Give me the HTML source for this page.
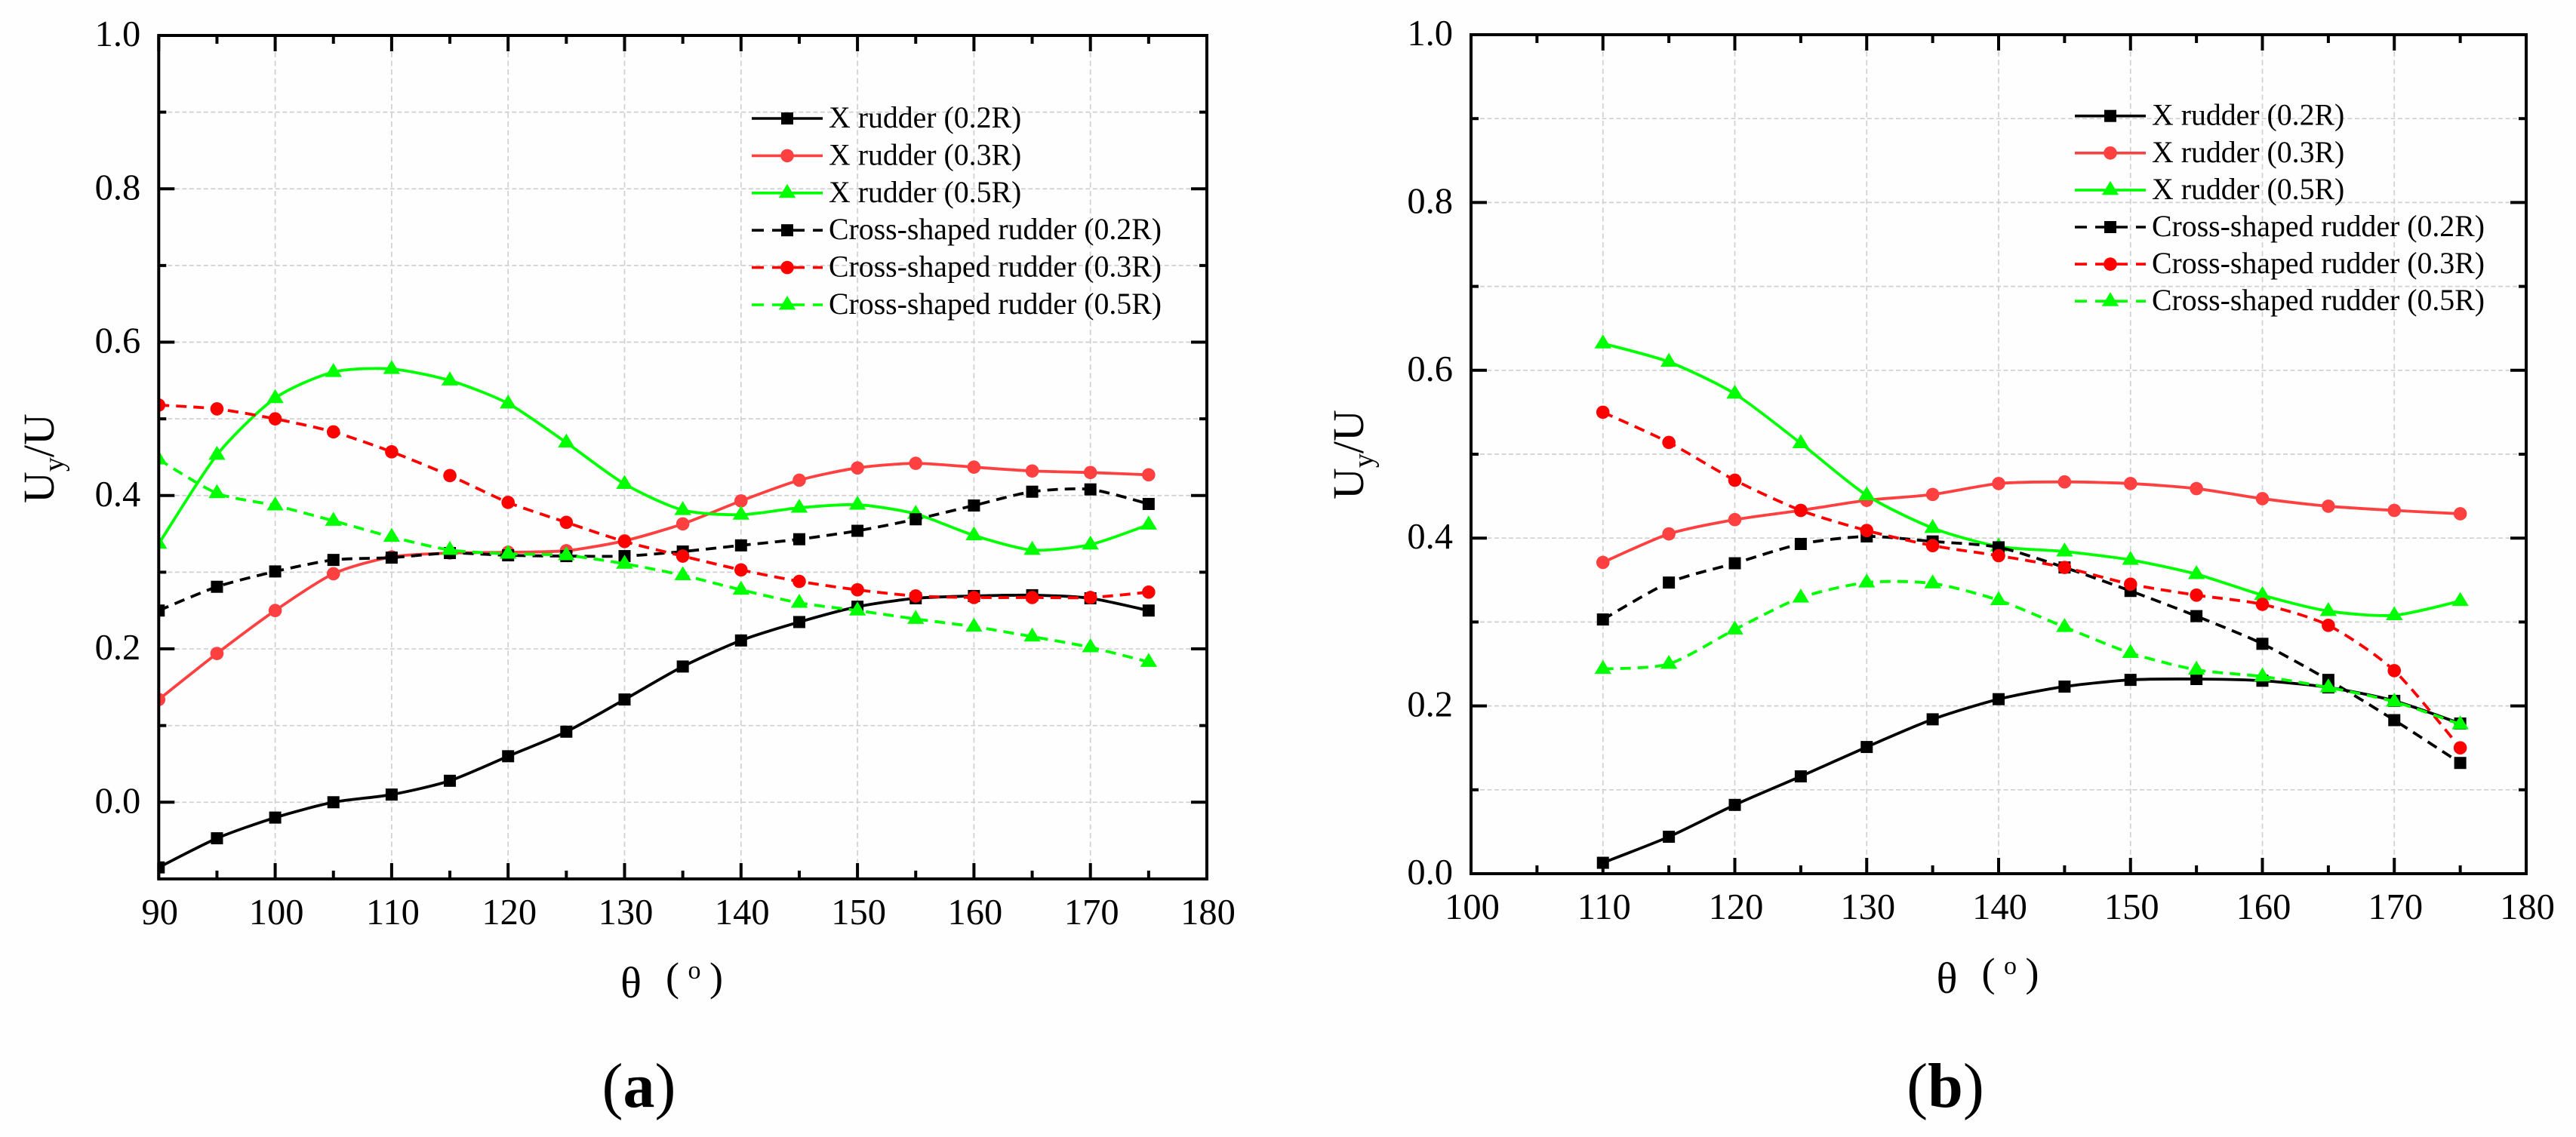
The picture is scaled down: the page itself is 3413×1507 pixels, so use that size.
<!DOCTYPE html>
<html lang="en">
<head>
<meta charset="utf-8">
<title>Uy/U versus theta for X rudder and cross-shaped rudder</title>
<style>
  html, body { margin: 0; padding: 0; background: #fefefe; }
  #figure { display: block; width: 3413px; height: 1507px; }
  text { font-family: "Liberation Serif", "DejaVu Serif", serif; fill: #000; }
</style>
</head>
<body>
<svg id="figure" xmlns="http://www.w3.org/2000/svg" width="3413" height="1507" viewBox="0 0 3413 1507">
  <rect x="0" y="0" width="3413" height="1507" fill="#fefefe"/>
</svg>
<script>
// ---- panel (a) data ----
const thetaA = [90, 95, 100, 105, 110, 115, 120, 125, 130, 135, 140, 145, 150, 155, 160, 165, 170, 175];
const aXRudder02 = [-0.085, -0.047, -0.020, 0.000, 0.010, 0.028, 0.060, 0.092, 0.134, 0.177, 0.211, 0.235, 0.255, 0.266, 0.269, 0.270, 0.266, 0.250];
const aXRudder03 = [0.134, 0.194, 0.250, 0.298, 0.320, 0.325, 0.326, 0.328, 0.341, 0.363, 0.393, 0.420, 0.436, 0.442, 0.437, 0.432, 0.430, 0.427];
const aXRudder05 = [0.337, 0.453, 0.527, 0.561, 0.565, 0.550, 0.520, 0.469, 0.415, 0.381, 0.375, 0.384, 0.388, 0.376, 0.348, 0.329, 0.336, 0.362];
const aCross02 = [0.250, 0.281, 0.301, 0.316, 0.319, 0.325, 0.322, 0.321, 0.321, 0.327, 0.335, 0.343, 0.354, 0.369, 0.387, 0.405, 0.408, 0.389];
const aCross03 = [0.518, 0.513, 0.500, 0.483, 0.457, 0.426, 0.391, 0.365, 0.340, 0.321, 0.303, 0.288, 0.277, 0.269, 0.267, 0.267, 0.267, 0.274];
const aCross05 = [0.447, 0.403, 0.387, 0.367, 0.346, 0.329, 0.324, 0.322, 0.311, 0.296, 0.277, 0.260, 0.250, 0.239, 0.229, 0.216, 0.202, 0.183];

// ---- panel (b) data ----
const thetaB = [110, 115, 120, 125, 130, 135, 140, 145, 150, 155, 160, 165, 170, 175];
const bXRudder02 = [0.013, 0.044, 0.082, 0.116, 0.151, 0.184, 0.208, 0.223, 0.231, 0.232, 0.230, 0.222, 0.206, 0.179];
const bXRudder03 = [0.371, 0.405, 0.422, 0.433, 0.445, 0.452, 0.465, 0.467, 0.465, 0.459, 0.447, 0.438, 0.433, 0.429];
const bXRudder05 = [0.632, 0.610, 0.572, 0.513, 0.451, 0.412, 0.390, 0.384, 0.374, 0.357, 0.332, 0.313, 0.308, 0.325];
const bCross02 = [0.303, 0.347, 0.370, 0.393, 0.402, 0.396, 0.389, 0.365, 0.337, 0.307, 0.274, 0.231, 0.183, 0.132];
const bCross03 = [0.550, 0.514, 0.469, 0.433, 0.409, 0.391, 0.379, 0.365, 0.345, 0.332, 0.321, 0.296, 0.242, 0.150];
const bCross05 = [0.244, 0.250, 0.291, 0.329, 0.347, 0.346, 0.326, 0.294, 0.263, 0.243, 0.235, 0.222, 0.205, 0.178];

// ---- ticks and labels ----
const xMajorTicksA = [90, 100, 110, 120, 130, 140, 150, 160, 170, 180];
const xMajorLabelsA = ["90", "100", "110", "120", "130", "140", "150", "160", "170", "180"];
const xMinorTicksA = [95, 105, 115, 125, 135, 145, 155, 165, 175];
const xMajorTicksB = [100, 110, 120, 130, 140, 150, 160, 170, 180];
const xMajorLabelsB = ["100", "110", "120", "130", "140", "150", "160", "170", "180"];
const xMinorTicksB = [105, 115, 125, 135, 145, 155, 165, 175];
const yMajorTicks = [0.0, 0.2, 0.4, 0.6, 0.8, 1.0];
const yMajorLabels = ["0.0", "0.2", "0.4", "0.6", "0.8", "1.0"];
const yMinorTicks = [0.1, 0.3, 0.5, 0.7, 0.9];

// ---- series labels ----
const seriesLabels = ["X rudder (0.2R)", "X rudder (0.3R)", "X rudder (0.5R)", "Cross-shaped rudder (0.2R)", "Cross-shaped rudder (0.3R)", "Cross-shaped rudder (0.5R)"];
const seriesSlugs = ["x-rudder-0-2r", "x-rudder-0-3r", "x-rudder-0-5r", "cross-rudder-0-2r", "cross-rudder-0-3r", "cross-rudder-0-5r"];
const seriesValuesA = [aXRudder02, aXRudder03, aXRudder05, aCross02, aCross03, aCross05];
const seriesValuesB = [bXRudder02, bXRudder03, bXRudder05, bCross02, bCross03, bCross05];
const seriesColors = ["#000000", "#ff4040", "#00ff00", "#000000", "#ff0000", "#00ff00"];
const seriesDashed = [false, false, false, true, true, true];
const seriesMarkers = ["square", "circle", "triangle", "square", "circle", "triangle"];

const SVG_NS = "http://www.w3.org/2000/svg";
const root = document.getElementById("figure");

function make(tag, attrs, parent, text) {
  const node = document.createElementNS(SVG_NS, tag);
  for (const k in attrs) node.setAttribute(k, attrs[k]);
  if (text !== undefined) node.textContent = text;
  parent.appendChild(node);
  return node;
}

function smoothPath(pts) {
  let d = "M" + pts[0][0].toFixed(2) + " " + pts[0][1].toFixed(2);
  for (let i = 0; i < pts.length - 1; i++) {
    const p0 = pts[Math.max(i - 1, 0)];
    const p1 = pts[i];
    const p2 = pts[i + 1];
    const p3 = pts[Math.min(i + 2, pts.length - 1)];
    const c1x = p1[0] + (p2[0] - p0[0]) / 8;
    const c1y = p1[1] + (p2[1] - p0[1]) / 8;
    const c2x = p2[0] - (p3[0] - p1[0]) / 8;
    const c2y = p2[1] - (p3[1] - p1[1]) / 8;
    d += "C" + c1x.toFixed(2) + " " + c1y.toFixed(2) + " " + c2x.toFixed(2) + " " + c2y.toFixed(2) + " " + p2[0].toFixed(2) + " " + p2[1].toFixed(2);
  }
  return d;
}

function drawMarker(kind, cx, cy, color, parent) {
  if (kind === "square") {
    return make("rect", { x: cx - 8, y: cy - 8, width: 16, height: 16, fill: color }, parent);
  }
  if (kind === "circle") {
    return make("circle", { cx: cx, cy: cy, r: 8.8, fill: color }, parent);
  }
  const pts = [[cx, cy - 12], [cx + 11.2, cy + 6.5], [cx - 11.2, cy + 6.5]].map(p => p.join(",")).join(" ");
  return make("polygon", { points: pts, fill: color }, parent);
}

function drawPanel(cfg) {
  const panel = make("g", {}, root);
  
  

  const xScale = v => cfg.left + (v - cfg.xMin) / (cfg.xMax - cfg.xMin) * (cfg.right - cfg.left);
  const yScale = v => cfg.y0 - v * (cfg.y0 - cfg.y1);
  const bottom = yScale(cfg.yMin);
  const top = cfg.y1;

  const clipId = "plot-clip-" + cfg.id;
  const defs = make("defs", {}, panel);
  const clip = make("clipPath", { id: clipId }, defs);
  make("rect", { x: cfg.left, y: top, width: cfg.right - cfg.left, height: bottom - top }, clip);

  // gridlines
  const grid = make("g", { stroke: "#d0d0d0", "stroke-width": 1.7, fill: "none" }, panel);
  
  
  yMajorTicks.concat(yMinorTicks).forEach(v => {
    if (v >= 1) return;
    const line = make("line", { x1: cfg.left + 12, x2: cfg.right - 12, y1: yScale(v), y2: yScale(v), "stroke-dasharray": "6 3.5" }, grid);
    
    
  });
  cfg.xMajor.forEach(v => {
    if (v === cfg.xMin || v === cfg.xMax) return;
    const line = make("line", { x1: xScale(v), x2: xScale(v), y1: top + 22, y2: bottom - 22, "stroke-dasharray": "7 4.5" }, grid);
    
    
  });

  // series
  const plot = make("g", { "clip-path": "url(#" + clipId + ")" }, panel);
  
  
  cfg.values.forEach((vals, i) => {
    const g = make("g", {}, plot);
    
    
    const pts = vals.map((v, k) => [xScale(cfg.theta[k]), yScale(v)]);
    const attrs = { d: smoothPath(pts), fill: "none", stroke: seriesColors[i], "stroke-width": 3.8 };
    if (seriesDashed[i]) attrs["stroke-dasharray"] = "14 9";
    const path = make("path", attrs, g);
    
    
    pts.forEach(p => {
      const m = drawMarker(seriesMarkers[i], p[0], p[1], seriesColors[i], g);
      
      
    });
  });

  // frame and ticks
  const frame = make("rect", { x: cfg.left, y: top, width: cfg.right - cfg.left, height: bottom - top, fill: "none", stroke: "#000", "stroke-width": 4 }, panel);
  
  

  const ticks = make("g", { stroke: "#000", "stroke-width": 4 }, panel);
  
  
  const drawX = (v, len) => {
    const a = make("line", { x1: xScale(v), x2: xScale(v), y1: bottom, y2: bottom - len }, ticks);
    
    
    const b = make("line", { x1: xScale(v), x2: xScale(v), y1: top, y2: top + len }, ticks);
    
    
  };
  const drawY = (v, len) => {
    const a = make("line", { x1: cfg.left, x2: cfg.left + len, y1: yScale(v), y2: yScale(v) }, ticks);
    
    
    const b = make("line", { x1: cfg.right, x2: cfg.right - len, y1: yScale(v), y2: yScale(v) }, ticks);
    
    
  };
  cfg.xMajor.forEach(v => drawX(v, 21));
  cfg.xMinor.forEach(v => drawX(v, 11));
  yMajorTicks.forEach(v => drawY(v, 21));
  yMinorTicks.forEach(v => drawY(v, 10));

  // tick labels
  cfg.xMajor.forEach((v, i) => {
    const t = make("text", { x: xScale(v) + 1.5, y: bottom + 60, "font-size": 48.5, "text-anchor": "middle" }, panel, cfg.xLabels[i]);
    
    
  });
  yMajorTicks.forEach((v, i) => {
    const t = make("text", { x: cfg.left - 24, y: yScale(v) + 14, "font-size": 48.5, "text-anchor": "end" }, panel, yMajorLabels[i]);
    
    
  });

  // y axis title
  const yTitle = make("text", { transform: "translate(" + cfg.yTitleX + " " + cfg.yTitleY + ") rotate(-90)", "font-size": 58 }, panel);
  
  
  make("tspan", {}, yTitle, "U");
  make("tspan", { dy: 13, "font-size": 38 }, yTitle, "y");
  make("tspan", { dy: -13 }, yTitle, "/U");

  // x axis title
  const xt = make("g", { transform: "translate(" + cfg.xTitleDx + " " + cfg.xTitleDy + ")" }, panel);
  
  
  make("text", { x: 836, y: 1322, "font-size": 58, "text-anchor": "middle" }, xt, "θ");
  make("text", { x: 882, y: 1313, "font-size": 54 }, xt, "(");
  make("text", { x: 920, y: 1297, "font-size": 34, "text-anchor": "middle" }, xt, "o");
  make("text", { x: 958, y: 1313, "font-size": 54, "text-anchor": "end" }, xt, ")");

  // panel caption
  const cap = make("text", { x: cfg.captionX, y: 1467, "font-size": 84, "text-anchor": "middle" }, panel);
  
  
  make("tspan", {}, cap, "(");
  make("tspan", { "font-weight": "bold" }, cap, cfg.id);
  make("tspan", {}, cap, ")");

  // legend
  const legend = make("g", {}, panel);
  
  
  seriesLabels.forEach((label, i) => {
    const row = cfg.legendRow + i * cfg.legendStep;
    const entry = make("g", {}, legend);
    
    
    const attrs = { x1: cfg.legendX, x2: cfg.legendX + 94, y1: row, y2: row, stroke: seriesColors[i], "stroke-width": 3.6 };
    if (seriesDashed[i]) attrs["stroke-dasharray"] = "16 11 43 11 13";
    const sample = make("line", attrs, entry);
    
    
    const mark = drawMarker(seriesMarkers[i], cfg.legendX + 47, row, seriesColors[i], entry);
    
    
    const t = make("text", { x: cfg.legendX + 102, y: row + 12, "font-size": 39.8 }, entry, label);
    
    
  });
}

drawPanel({
  id: "a", theta: thetaA, values: seriesValuesA,
  xMin: 90, xMax: 180, yMin: -0.1,
  xMajor: xMajorTicksA, xLabels: xMajorLabelsA, xMinor: xMinorTicksA,
  left: 210.3, right: 1599, y0: 1063.3, y1: 47,
  yTitleX: 71, yTitleY: 667, xTitleDx: 0, xTitleDy: 0, captionX: 846.5,
  legendX: 996, legendRow: 157, legendStep: 49.4
});

drawPanel({
  id: "b", theta: thetaB, values: seriesValuesB,
  xMin: 100, xMax: 180, yMin: 0,
  xMajor: xMajorTicksB, xLabels: xMajorLabelsB, xMinor: xMinorTicksB,
  left: 1949, right: 3347, y0: 1158, y1: 46,
  yTitleX: 1806, yTitleY: 662, xTitleDx: 1743.5, xTitleDy: -6, captionX: 2577.5,
  legendX: 2749, legendRow: 153.7, legendStep: 49.1
});
</script>
</body>
</html>
